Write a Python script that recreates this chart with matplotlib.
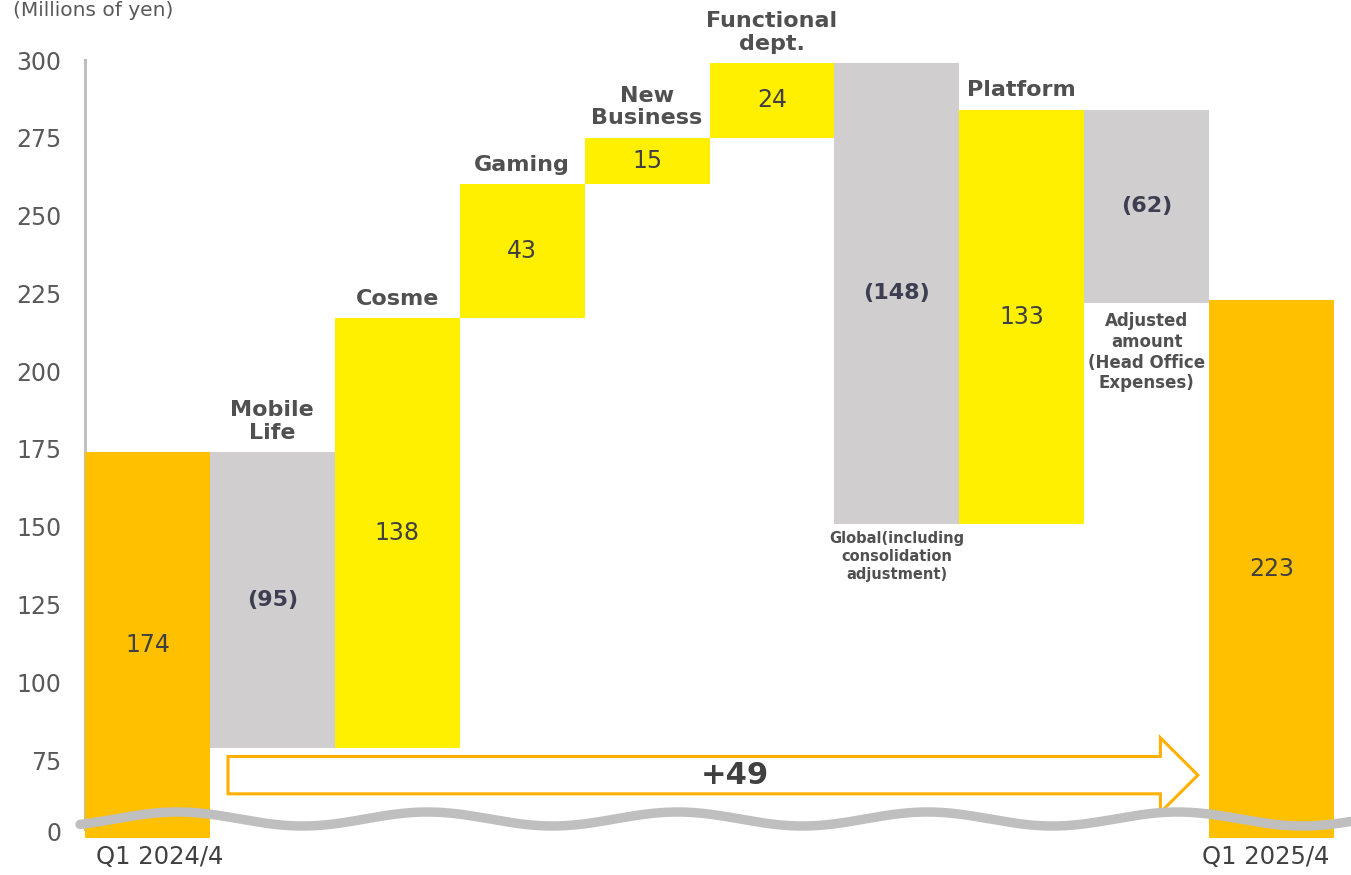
import numpy as np
import matplotlib
matplotlib.use("Agg")
import matplotlib.pyplot as plt
from matplotlib.patches import Polygon
from matplotlib.transforms import offset_copy

# data (millions of yen)
start_label = "Q1 2024/4"
end_label = "Q1 2025/4"
start_value = 174
end_value = 223
steps = ["Mobile\nLife", "Cosme", "Gaming", "New\nBusiness", "Functional\ndept.",
         "Global(including\nconsolidation\nadjustment)", "Platform",
         "Adjusted\namount\n(Head Office\nExpenses)"]
deltas = [-95, 138, 43, 15, 24, -148, 133, -62]
change_label = "+49"
yticks = [75, 100, 125, 150, 175, 200, 225, 250, 275, 300]

ORANGE = "#FFC000"
YELLOW = "#FFF000"
GREY = "#D0CECE"
TXT = "#505050"

W, H = 1351, 875
fig = plt.figure(figsize=(W / 100, H / 100), dpi=100)
ax = fig.add_axes([85 / W, (H - 838) / H, (1334 - 85) / W, (838 - 60) / H])

ymin = 50
ax.set_ylim(ymin, 300)
ax.set_xlim(-0.5, len(steps) + 1.5)

# start bar
ax.bar(0, start_value, width=1.0, color=ORANGE, zorder=2)
ax.text(0, (start_value + ymin) / 2, str(start_value), ha="center", va="center",
        fontsize=17, color="#404040")

level = start_value
for i, (name, d) in enumerate(zip(steps, deltas), start=1):
    lo, hi = min(level, level + d), max(level, level + d)
    color = YELLOW if d > 0 else GREY
    ax.bar(i, hi - lo, bottom=lo, width=1.0, color=color, zorder=2)
    if d > 0:
        ax.text(i, (lo + hi) / 2, str(d), ha="center", va="center",
                fontsize=17, color="#404040")
    else:
        ax.text(i, (lo + hi) / 2, "(%d)" % -d, ha="center", va="center",
                fontsize=16, fontweight="bold", color="#3E3E52")
    # category names
    if "Global" in name:
        ax.text(i, lo - 2.5, name, ha="center", va="top", fontsize=10.5,
                fontweight="bold", color=TXT, linespacing=1.25)
    elif "Adjusted" in name:
        ax.text(i, lo - 3, name, ha="center", va="top", fontsize=12,
                fontweight="bold", color=TXT, linespacing=1.2)
    else:
        ax.text(i, hi + 3, name, ha="center", va="bottom", fontsize=16,
                fontweight="bold", color=TXT, linespacing=1.15)
    level += d

# end bar
n_end = len(steps) + 1
ax.bar(n_end, end_value, width=1.0, color=ORANGE, zorder=2)
ax.text(n_end, (end_value + ymin) / 2, str(end_value), ha="center", va="center",
        fontsize=17, color="#404040")

# change arrow
ay = 70.2
body = 6.0
head = 12.0
x0, x1, x2 = 0.645, 8.11, 8.41
arrow = Polygon([(x0, ay - body), (x1, ay - body), (x1, ay - head), (x2, ay),
                 (x1, ay + head), (x1, ay + body), (x0, ay + body)],
                closed=True, facecolor="white", edgecolor="#FFB000", lw=2.2,
                zorder=3, clip_on=False)
ax.add_patch(arrow)
ax.text(4.7, ay, change_label, ha="center", va="center", fontsize=22,
        fontweight="bold", color="#404040", zorder=4)

# axes styling
ax.set_yticks([52] + yticks)
ax.set_yticklabels(["0"] + [str(t) for t in yticks], fontsize=17, color="#595959")
ax.set_xticks([])
ax.tick_params(length=0)
ax.tick_params(axis="y", pad=17)
xl_tr = ax.get_xaxis_transform()
ax.text(0.1, 0, start_label, transform=offset_copy(xl_tr, fig=fig, y=-7, units="dots"),
        ha="center", va="top", fontsize=17.5, color="#404040")
ax.text(n_end - 0.05, 0, end_label, transform=offset_copy(xl_tr, fig=fig, y=-7, units="dots"),
        ha="center", va="top", fontsize=17.5, color="#404040")
for s in ["top", "right", "bottom"]:
    ax.spines[s].set_visible(False)
ax.spines["left"].set_color("#BFBFBF")
ax.spines["left"].set_linewidth(2.2)
ax.spines["left"].set_bounds(53, 300)
ax.spines["left"].set_zorder(1)

# axis break wave
px = np.linspace(80, 1351, 600)
py = 819 - 7 * np.sin((px - 115) / 250 * 2 * np.pi)
fig.add_artist(plt.Line2D(px / W, (H - py) / H, color="#BFBFBF", lw=6.8,
                          solid_capstyle="round", zorder=5))

fig.text(13 / W, (H - 10) / H, "(Millions of yen)", fontsize=14.5, color="#595959",
         ha="left", va="center")

fig.savefig("out.png", dpi=100)
